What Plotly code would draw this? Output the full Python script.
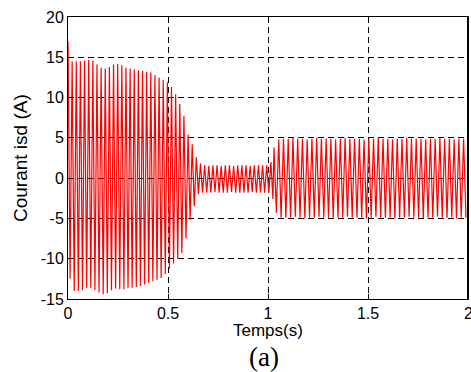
import plotly.graph_objects as go

# ---- data: per-cycle extrema of isd (A) ----
SEG_START = [0.0, 1.03]          # s, start of each oscillation segment
SEG_PERIOD = [0.0207, 0.0237]    # s, apparent period in each segment

PEAKS_1 = [17.0, 14.5, 14.5, 14.5, 14.6, 14.7, 14.6, 14.1, 13.7, 13.6,
           13.8, 14.1, 14.2, 14.0, 13.7, 13.6, 13.5, 13.4, 13.3, 13.2,
           13.1, 12.8, 12.5, 12.2, 11.9, 11.3, 10.4, 9.2, 7.7, 5.4,
           4.2, 2.6, 1.8, 1.6, 1.5, 1.6, 1.6, 1.5, 1.6, 1.6,
           1.5, 1.6, 1.6, 1.6, 1.5, 1.6, 1.6, 1.6, 1.6, 2.0]
TROUGHS_1 = [-12.5, -14.0, -14.0, -13.9, -13.6, -13.6, -13.9, -14.2, -14.4, -14.3,
             -13.9, -13.7, -13.8, -13.8, -13.6, -13.6, -13.5, -13.4, -13.2, -13.0,
             -12.8, -12.6, -12.4, -11.9, -11.2, -10.6, -10.0, -9.3, -7.5, -5.2,
             -3.5, -2.0, -1.8, -1.8, -1.8, -1.7, -1.8, -1.8, -1.8, -1.7,
             -1.8, -1.8, -1.8, -1.8, -1.7, -1.8, -1.8, -1.8, -1.8, -2.6]
PEAKS_2 = [3.8, 4.8, 4.9, 4.9, 5.0, 4.9, 4.9, 4.8, 4.9, 5.0,
           4.9, 4.9, 4.9, 4.8, 4.9, 5.0, 4.9, 4.9, 4.9, 4.8,
           4.9, 4.9, 5.0, 4.9, 4.9, 4.8, 4.9, 4.9, 5.0, 4.9,
           4.9, 4.9, 4.8, 4.9, 4.9, 5.0, 4.9, 4.9, 4.8, 4.9, 4.9]
TROUGHS_2 = [-4.3, -4.9, -4.9, -4.9, -4.8, -4.9, -5.0, -4.9, -4.9, -4.8,
             -4.9, -4.9, -5.0, -4.9, -4.9, -4.8, -4.9, -4.9, -4.9, -5.0,
             -4.9, -4.8, -4.9, -4.9, -4.9, -5.0, -4.9, -4.9, -4.8, -4.9,
             -4.9, -5.0, -4.9, -4.9, -4.8, -4.9, -4.9, -4.9, -5.0, -4.9, -4.9]

X_TICKS = [0, 0.5, 1, 1.5, 2]
X_TICK_TEXT = ["0", "0.5", "1", "1.5", "2"]
Y_TICKS = [-15, -10, -5, 0, 5, 10, 15, 20]
Y_TICK_TEXT = ["-15", "-10", "-5", "0", "5", "10", "15", "20"]

# ---- build the extrema sequence on the time grid ----
t, y = [], []
for start, per, pk, tr in [(SEG_START[0], SEG_PERIOD[0], PEAKS_1, TROUGHS_1),
                           (SEG_START[1], SEG_PERIOD[1], PEAKS_2, TROUGHS_2)]:
    for k, (p, q) in enumerate(zip(pk, tr)):
        t.append(start + k * per)
        y.append(p)
        t.append(start + k * per + per / 2)
        y.append(q)

fig = go.Figure()
fig.add_trace(go.Scatter(x=t, y=y, mode="lines",
                         line=dict(color="#ff0000", width=1.2),
                         hoverinfo="skip", showlegend=False))

sans = "Liberation Sans, Arial, sans-serif"
axis_font = dict(family=sans, size=16, color="black")
common = dict(showgrid=True, gridcolor="black", gridwidth=1, griddash="6px,4px",
              showline=True, linecolor="black", linewidth=1, mirror=True,
              ticks="inside", ticklen=5, tickcolor="black",
              zeroline=False, tickfont=axis_font)

# last x label ("2") is placed as an annotation since it hangs past the right edge
fig.update_xaxes(range=[0, 2], tickvals=X_TICKS[:-1], ticktext=X_TICK_TEXT[:-1], **common)
fig.update_yaxes(range=[-15, 20], tickvals=Y_TICKS, ticktext=Y_TICK_TEXT, **common)

fig.add_annotation(text=X_TICK_TEXT[-1], xref="x", yref="paper", x=X_TICKS[-1], y=0,
                   yshift=-4, showarrow=False, xanchor="center", yanchor="top",
                   font=axis_font)
fig.add_annotation(text="Temps(s)", xref="paper", yref="paper", x=0.5, y=-0.112,
                   showarrow=False, xanchor="center", yanchor="middle",
                   font=dict(family=sans, size=17, color="black"))
fig.add_annotation(text="(a)", xref="paper", yref="paper", x=0.49, y=-0.205,
                   showarrow=False, xanchor="center", yanchor="middle",
                   font=dict(family="Liberation Serif, Times New Roman, serif", size=27, color="black"))
fig.add_annotation(text="Courant isd (A)", xref="paper", yref="paper", x=-0.12, y=0.5,
                   textangle=-90, showarrow=False, xanchor="center", yanchor="middle",
                   font=dict(family=sans, size=19, color="black"))

# darker right frame edge as in the reference
fig.add_shape(type="line", xref="paper", yref="paper", x0=1, x1=1, y0=0, y1=1,
              line=dict(color="black", width=2))

fig.update_layout(width=471, height=372,
                  margin=dict(l=68, r=3, t=17, b=73),
                  paper_bgcolor="white", plot_bgcolor="white")

fig.write_html("out.html")
